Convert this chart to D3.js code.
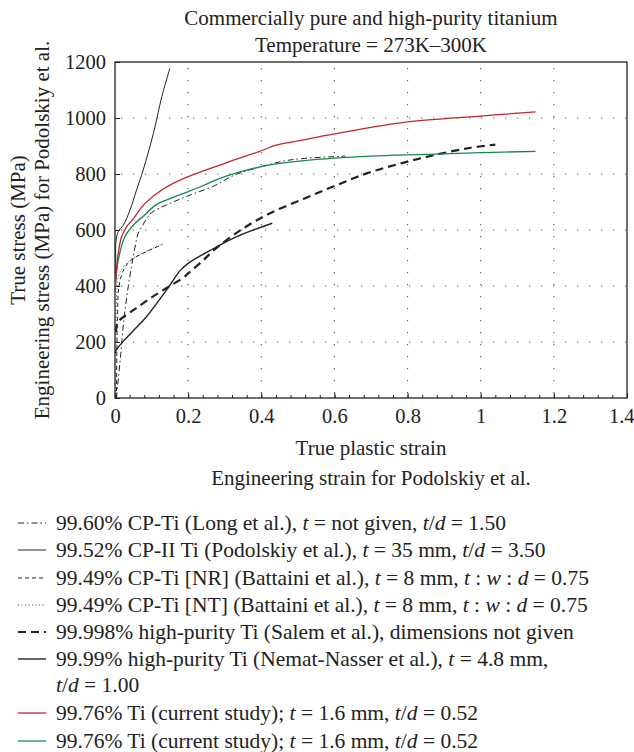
<!DOCTYPE html>
<html><head><meta charset="utf-8">
<script src="https://cdn.jsdelivr.net/npm/d3@7"></script>
<style>body{margin:0;background:#fff}text{font-family:"Liberation Serif","DejaVu Serif",serif;fill:#222}</style>
</head><body><svg id="c" width="634" height="752"></svg>
<script>
const xTicks=[0,0.2,0.4,0.6,0.8,1,1.2,1.4];
const yTicks=[0,200,400,600,800,1000,1200];
const longEtAl=[[0.004,0],[0.01,80],[0.016,160],[0.022,250],[0.03,340],[0.04,430],[0.05,505],[0.064,590],[0.075,615],[0.086,640],[0.1,662],[0.15,695],[0.2,722],[0.27,757],[0.33,798],[0.4,826],[0.46,846],[0.51,855],[0.6,862],[0.63,864]];
const podolskiy=[[0.001,380],[0.002,480],[0.003,564],[0.009,594],[0.023,618],[0.041,671],[0.059,743],[0.077,814],[0.105,945],[0.128,1076],[0.15,1177]];
const battainiNR=[[0.004,0],[0.005,150],[0.007,300],[0.011,400],[0.025,462],[0.045,493],[0.086,523],[0.13,548]];
const battainiNT=[[0.002,0],[0.003,200],[0.004,350],[0.009,433],[0.023,469],[0.05,500],[0.09,526],[0.13,551]];
const salem=[[0.002,235],[0.008,272],[0.014,280],[0.05,314],[0.064,326],[0.096,356],[0.14,392],[0.187,430],[0.2,445],[0.24,490],[0.27,528],[0.35,605],[0.424,660],[0.515,711],[0.6,757],[0.69,803],[0.785,839],[0.878,869],[0.97,893],[1.04,905]];
const nematNasser=[[0.0,160],[0.003,170],[0.023,203],[0.05,240],[0.086,290],[0.141,386],[0.178,455],[0.2,481],[0.26,527],[0.333,576],[0.43,624]];
const currentRed=[[0,380],[0.003,440],[0.009,517],[0.018,576],[0.032,612],[0.05,640],[0.082,695],[0.128,743],[0.19,785],[0.3,838],[0.4,883],[0.44,903],[0.5,918],[0.6,943],[0.8,986],[1.0,1007],[1.15,1022]];
const currentGreen=[[0,375],[0.003,430],[0.009,493],[0.027,576],[0.055,624],[0.08,652],[0.11,688],[0.15,712],[0.2,737],[0.24,758],[0.28,781],[0.33,803],[0.42,832],[0.51,847],[0.6,857],[0.7,864],[0.85,870],[1.0,876],[1.15,881]];
const seriesData=[longEtAl,podolskiy,battainiNR,battainiNT,salem,nematNasser,currentRed,currentGreen];
const legendLabels=[
 ["99.60% CP-Ti (Long et al.), *t* = not given, *t*/*d* = 1.50"],
 ["99.52% CP-II Ti (Podolskiy et al.), *t* = 35 mm, *t*/*d* = 3.50"],
 ["99.49% CP-Ti [NR] (Battaini et al.), *t* = 8 mm, *t* : *w* : *d* = 0.75"],
 ["99.49% CP-Ti [NT] (Battaini et al.), *t* = 8 mm, *t* : *w* : *d* = 0.75"],
 ["99.998% high-purity Ti (Salem et al.), dimensions not given"],
 ["99.99% high-purity Ti (Nemat-Nasser et al.), *t* = 4.8 mm,","*t*/*d* = 1.00"],
 ["99.76% Ti (current study); *t* = 1.6 mm, *t*/*d* = 0.52"],
 ["99.76% Ti (current study); *t* = 1.6 mm, *t*/*d* = 0.52"]];
const titleLines=["Commercially pure and high-purity titanium","Temperature = 273K\u2013300K"];
const xTitleLines=["True plastic strain","Engineering strain for Podolskiy et al."];
const yTitleLines=["True stress (MPa)","Engineering stress (MPa) for Podolskiy et al."];

const styles=[
 {c:"#222",w:1,d:"6,3,1.5,3"},
 {c:"#222",w:1,d:null},
 {c:"#222",w:1,d:"4,3"},
 {c:"#444",w:1,d:"1,2.5"},
 {c:"#222",w:2.2,d:"8,5"},
 {c:"#222",w:1.4,d:null},
 {c:"#c0262d",w:1.3,d:null},
 {c:"#13894a",w:1.3,d:null}];

const svg=d3.select("#c");
const x=d3.scaleLinear().domain([0,1.4]).range([115,627]);
const y=d3.scaleLinear().domain([0,1200]).range([398,62]);
const FS=20.5, TFS=21, LFS=21.5;
// grid
const g=svg.append("g");
g.selectAll(".vg").data(xTicks.slice(1,-1)).join("line").attr("x1",d=>x(d)).attr("x2",d=>x(d)).attr("y1",y(1200)).attr("y2",y(0))
 .attr("stroke","#555").attr("stroke-width",1.1).attr("stroke-dasharray","1.2,10.8").attr("stroke-dashoffset",-6);
g.selectAll(".hg").data(yTicks.slice(1,-1)).join("line").attr("y1",d=>y(d)).attr("y2",d=>y(d)).attr("x1",x(0)).attr("x2",x(1.4))
 .attr("stroke","#555").attr("stroke-width",1.1).attr("stroke-dasharray","1.2,10.8").attr("stroke-dashoffset",-6);
// axes
const fmt=d=>d3.format("~g")(d);
const xa=svg.append("g").attr("transform",`translate(0,${y(0)})`).call(d3.axisBottom(x).tickValues(xTicks).tickFormat(fmt).tickSize(-5).tickPadding(10));
const xm=svg.append("g").attr("transform",`translate(0,${y(0)})`).call(d3.axisBottom(x).tickValues(d3.range(0,1.4001,0.04)).tickFormat("").tickSize(-3));
const ya=svg.append("g").attr("transform",`translate(${x(0)},0)`).call(d3.axisLeft(y).tickValues(yTicks).tickFormat(fmt).tickSize(-5).tickPadding(9));
[xa,xm,ya].forEach(a=>{a.select(".domain").remove();a.selectAll("line").attr("stroke","#222");a.selectAll("text").style("font-family","Liberation Serif").style("font-size",FS+"px").attr("fill","#222");});
xa.selectAll("text").attr("dy","0.71em");
xa.selectAll(".tick").filter(d=>d===1.4).select("text").attr("text-anchor","end").attr("x",7);
svg.append("rect").attr("x",x(0)).attr("y",y(1200)).attr("width",x(1.4)-x(0)).attr("height",y(0)-y(1200)).attr("fill","none").attr("stroke","#222").attr("stroke-width",1.3);
// clip
svg.append("clipPath").attr("id","cp").append("rect").attr("x",x(0)).attr("y",y(1200)-2).attr("width",x(1.4)-x(0)).attr("height",y(0)-y(1200)+2);
const lineC=d3.line().x(d=>x(d[0])).y(d=>y(d[1])).curve(d3.curveCatmullRom.alpha(0.5));
const order=[0,1,2,3,5,4,7,6];
order.forEach(i=>{
 const s=styles[i];
 svg.append("path").attr("d",lineC(seriesData[i])).attr("fill","none").attr("stroke",s.c).attr("stroke-width",s.w)
  .attr("stroke-dasharray",s.d).attr("clip-path","url(#cp)");
});
// titles
titleLines.forEach((t,i)=>svg.append("text").attr("x",371).attr("y",25+i*27).attr("text-anchor","middle").style("font-size",TFS+"px").text(t));
xTitleLines.forEach((t,i)=>svg.append("text").attr("x",371).attr("y",455+i*30).attr("text-anchor","middle").style("font-size",TFS+"px").text(t));
yTitleLines.forEach((t,i)=>svg.append("text").attr("transform",`translate(${25+i*24},230) rotate(-90)`).attr("text-anchor","middle").style("font-size",TFS+"px").text(t));
// legend
function rich(sel,str){str.split("*").forEach((p,k)=>{if(p)sel.append("tspan").style("font-style",k%2?"italic":"normal").text(p);});}
const rowY=[523,550,578,605,632,659,713,741];
legendLabels.forEach((lab,i)=>{
 const yy=rowY[i], s=styles[i];
 svg.append("line").attr("x1",18).attr("x2",46).attr("y1",yy).attr("y2",yy).attr("stroke",s.c).attr("stroke-width",s.w).attr("stroke-dasharray",s.d);
 lab.forEach((l,j)=>{const t=svg.append("text").attr("x",56).attr("y",yy+7+j*26).style("font-size",LFS+"px");rich(t,l);});
});
</script></body></html>
